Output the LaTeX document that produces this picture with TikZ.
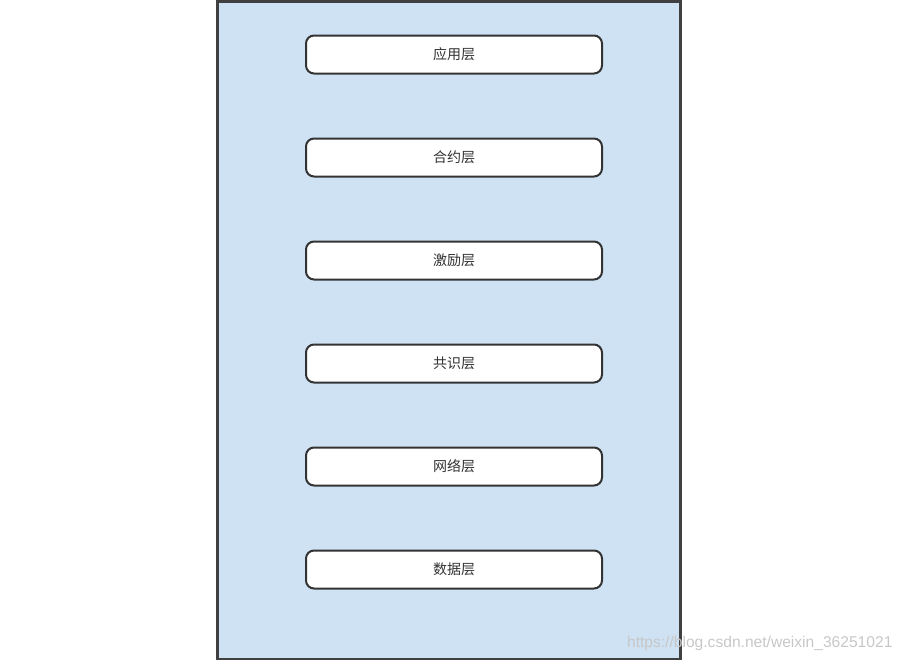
\documentclass[tikz,border=0pt]{standalone}
\usepackage{fontspec}
\setmainfont{Liberation Sans}
\newfontfamily\cjk{Noto Sans CJK SC}
\begin{document}
\begin{tikzpicture}[x=1pt,y=-1pt,
  layer/.style={draw=black!80,line width=2pt,fill=white,rounded corners=8pt,
    minimum width=296pt,minimum height=38pt,inner sep=0pt,
    font=\cjk\fontsize{14}{16}\selectfont,text=black!80},
  outer/.style={draw=black!75,line width=2.2pt,fill={rgb,255:red,207;green,226;blue,243}}]
\useasboundingbox (0,0) rectangle (903,662);
\draw[outer] (217.5,1.5) rectangle (680.5,659) ;
\node[layer] (app) at (454,54.5) {应用层};
\node[layer] (con) at (454,157.5) {合约层};
\node[layer] (inc) at (454,260.5) {激励层};
\node[layer] (cns) at (454,363.5) {共识层};
\node[layer] (net) at (454,466.5) {网络层};
\node[layer] (dat) at (454,569.5) {数据层};
\node[font=\fontsize{15.6}{17}\selectfont,text=black!22,anchor=east] (wm) at (896,643) {https://blog.csdn.net/weixin\_36251021};
\end{tikzpicture}
\end{document}
